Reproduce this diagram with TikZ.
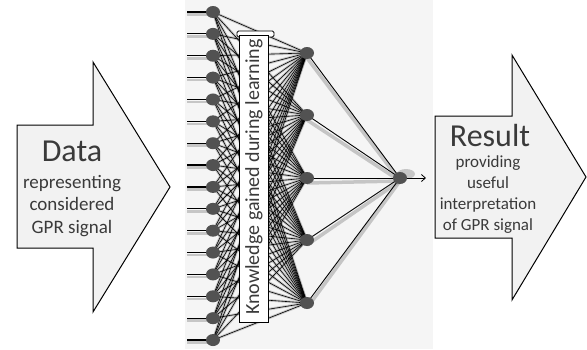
\documentclass[tikz,border=0pt]{standalone}
\usepackage{fontspec}
\setmainfont{Carlito}
\usetikzlibrary{arrows.meta}
\definecolor{txt}{HTML}{3A3A3A}
\definecolor{afill}{HTML}{F2F2F2}
\begin{document}
\begin{tikzpicture}[x=1pt,y=-1pt,
  bigarrow/.style={draw=black,line width=1pt,fill=afill,line join=miter},
  neuron/.style={circle,inner sep=0pt,minimum size=13pt},
  shade/.style={draw=black!50,line width=2.6pt,opacity=0.4},
  wire/.style={draw=black,line width=0.6pt},
  title/.style={text=txt,font=\fontsize{32}{34}\selectfont},
  body/.style={text=txt,align=center},
]
\useasboundingbox (0,0) rectangle (587,349);
% network background
\fill[afill!80!white] (185,0) rectangle (433,349);
% arrows
\draw[bigarrow] (17,125) -- (93,125) -- (93,62) -- (170,187) -- (93,312) -- (93,248) -- (17,248) -- cycle;
\draw[bigarrow] (435,116) -- (512,116) -- (512,55) -- (586,177) -- (512,300) -- (512,238) -- (435,238) -- cycle;
% texts in arrows
\node[title] (data) at (72,151) {Data};
\node[body,font=\fontsize{19}{22.5}\selectfont] (datatxt) at (72,206) {representing\\considered\\GPR signal};
\node[title] (result) at (490,136) {Result};
\node[body,font=\fontsize{17}{21}\selectfont] (restxt) at (488,195) {providing\\useful\\interpretation\\of GPR signal};
% nodes
\foreach \i in {0,...,15}{
  \coordinate (s\i) at (187,{12+\i*21.87});
  \node[neuron] (in\i) at (213,{12+\i*21.87}) {};
}
\foreach \j/\y in {1/53,2/115,3/178,4/240,5/303}{
  \node[neuron] (h\j) at (307,\y) {};
}
\node[neuron] (out) at (400,178) {};
\coordinate (oa) at (426,178);
% connections: shadows
\foreach \i in {0,...,15}{
  \draw[shade] ([yshift=-2.5pt]s\i) -- ([yshift=-2.5pt]in\i.center);
  \foreach \j in {1,...,5}{
    \draw[shade] (in\i.center) -- (h\j.center);
  }
}
\foreach \j in {1,...,5}{
  \draw[draw=black!45,line width=3.5pt,opacity=0.45] ([yshift=-5pt]h\j.center) -- ([yshift=-3pt]out.center);
}
\fill[black!40,opacity=0.5] (406,174) ellipse (9pt and 5pt);
% connections: wires
\foreach \i in {0,...,15}{
  \draw[line width=1.2pt] (s\i) -- (in\i.center);
  \foreach \j in {1,...,5}{
    \draw[wire] (in\i.center) -- (h\j.center);
  }
}
\foreach \j in {1,...,5}{
  \draw[line width=0.9pt] (h\j.center) -- (out.center);
}
\draw[line width=0.8pt,-{Straight Barb[length=4pt,width=7pt]}] (out.center) -- (oa);
% neuron bodies
\foreach \i in {0,...,15}{ \fill[black!68] (in\i) ellipse (7pt and 6pt); }
\foreach \j in {1,...,5}{ \fill[black!68] (h\j) ellipse (7pt and 6pt); }
\fill[black!68] (out) ellipse (7pt and 6pt);
% knowledge box
\draw[fill=white,line width=0.9pt,rounded corners=1.5pt] (237,31) rectangle (274,37);
\draw[fill=white,line width=0.9pt] (239,35) rectangle (268,322);
\node[rotate=90,text=txt,font=\fontsize{20}{21}\selectfont] (know) at (254,177) {Knowledge gained during learning};
\end{tikzpicture}
\end{document}
